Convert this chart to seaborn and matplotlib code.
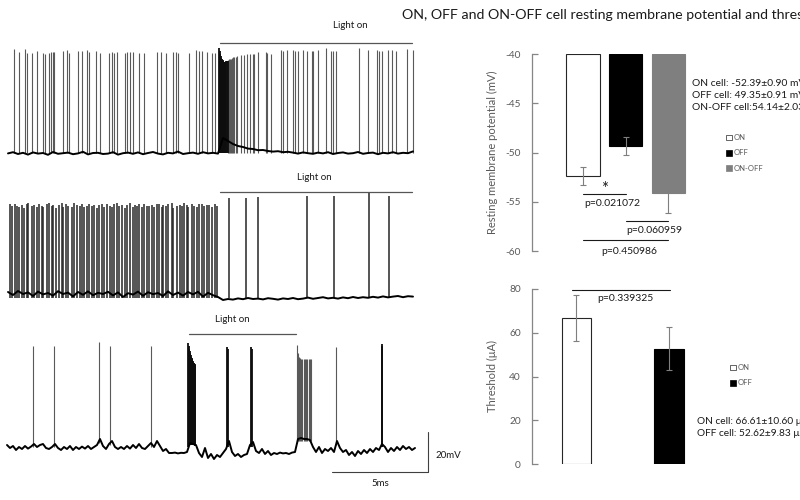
import numpy as np
import pandas as pd
import matplotlib
matplotlib.use("Agg")
import matplotlib.pyplot as plt
import seaborn as sns
from matplotlib.patches import Patch

# ---------------------------------------------------------------- data
TITLE = "ON, OFF and ON-OFF cell resting membrane potential and threshold"

# resting membrane potential (mV)
rmp_cells = ["ON", "OFF", "ON-OFF"]
rmp_mean = [-52.39, -49.35, -54.14]
rmp_sem = [0.90, 0.91, 2.03]
rmp_ticks = [-60, -55, -50, -45, -40]
rmp_notes = ["ON cell: -52.39\u00b10.90 mV", "OFF cell: 49.35\u00b10.91 mV", "ON-OFF cell:54.14\u00b12.03 mV"]
rmp_pvals = ["p=0.021072", "p=0.060959", "p=0.450986"]
rmp_pairs = [(0, 1), (1, 2), (0, 2)]
rmp_pair_level = [-54.2, -57.0, -58.9]

# threshold (uA)
thr_cells = ["ON", "OFF"]
thr_mean = [66.61, 52.62]
thr_sem = [10.60, 9.83]
thr_ticks = [0, 20, 40, 60, 80]
thr_notes = ["ON cell: 66.61\u00b110.60 \u03bcA", "OFF cell: 52.62\u00b19.83 \u03bcA"]
thr_pval = "p=0.339325"
thr_pair_level = 79.5

# ---- traces (time in samples, voltage in mV)
# trace 1 : ON cell
tr1_light = [220, 412]
tr1_base_start, tr1_base_step = 8, 5
tr1_base = [-60.2, -59.6, -60.5, -59.9, -60.8, -59.7, -60.3, -60.0, -60.9, -59.5,
            -60.4, -60.1, -59.8, -60.6, -60.2, -59.4, -60.7, -60.0, -59.9, -60.5,
            -60.3, -59.6, -60.8, -60.1, -59.8, -60.4, -59.7, -60.6, -60.0, -59.5,
            -60.3, -60.7, -59.9, -60.2, -59.3, -60.5, -60.1, -59.8, -60.4, -59.6,
            -60.2, -59.9, -60.3,
            -52.5, -54.0, -55.5, -56.5, -57.0, -57.8, -58.0, -58.6, -58.5, -59.0,
            -59.3, -59.1, -59.6, -59.4, -59.8, -60.3, -59.7, -60.1, -60.4, -59.8,
            -60.2, -59.6, -60.5, -60.0, -59.7, -60.3, -60.1, -59.5, -60.4, -60.0,
            -59.8, -60.6, -59.9, -60.2, -59.6, -60.3, -59.9, -60.1, -59.2]
tr1_spike_t = [14, 19.3, 25, 26.7, 32.3, 36.7, 42.7, 45, 49, 51,
               52.7, 54.3, 62.7, 66.7, 69, 77.7, 81.7, 87.3, 89.3, 95.7,
               100, 109, 111.7, 114.3, 117.3, 125, 127.3, 130, 132.7, 139.3,
               144, 156.7, 160.7, 166, 172.7, 176, 177.7, 189.3, 196, 199,
               201.7, 206.7, 212.3, 215,
               219.0, 219.6, 220.2, 220.8, 221.4, 222.0, 222.6, 223.2, 223.9, 224.6,
               225.3, 226.0, 226.8, 227.6, 228.4, 229.3, 230.2, 231.2, 232.2, 233.3,
               234.4, 235.6,
               236.7, 240.7, 244.3, 246.7, 250, 252.7, 254.3, 258.3, 265.7, 267.3,
               271, 280.7, 282.7, 287.3, 292.7, 295, 298.3, 302.7, 307.3, 311.7,
               313.3, 318.3, 326, 330.7, 332.7, 336, 359.3, 368.3, 376.7, 379.3,
               381.7, 388.3, 391.7, 396, 407.3, 412.7]
tr1_spike_top = [-7.8, -9.5, -8.2, -9.8, -10.2, -9.0, -10.0, -10.3, -9.8, -9.6,
                 -9.4, -9.7, -9.2, -8.6, -9.9, -9.0, -8.8, -8.5, -9.3, -9.0,
                 -9.9, -10.0, -9.6, -9.8, -9.5, -10.0, -9.7, -9.4, -9.6, -9.8,
                 -9.9, -9.3, -9.5, -9.8, -9.7, -9.6, -9.8, -9.9, -8.4, -9.1,
                 -9.2, -9.6, -9.8, -9.9,
                 -7.5, -9.0, -10.5, -11.5, -12.5, -13.0, -13.5, -14.0, -14.5, -14.5,
                 -14.5, -14.2, -14.0, -13.8, -13.5, -13.2, -13.0, -12.8, -12.5, -12.2,
                 -12.0, -11.8,
                 -11.5, -11.0, -10.8, -10.5, -10.5, -10.3, -10.3, -9.5, -9.5, -10.0,
                 -10.5, -8.5, -9.0, -8.5, -8.5, -9.0, -9.0, -8.5, -9.0, -9.0,
                 -9.0, -8.5, -7.5, -9.0, -9.0, -9.0, -7.5, -8.5, -8.5, -9.0,
                 -9.0, -8.5, -8.5, -9.0, -8.0, -8.5]
tr1_spike_base = -60.0

# trace 2 : OFF cell
tr2_light = [220, 412]
tr2_base_start, tr2_base_step = 8, 5
tr2_base = [-60.0, -61.5, -59.5, -61.0, -60.2, -62.0, -59.8, -61.2, -60.5, -61.8,
            -59.6, -61.0, -60.3, -62.2, -60.0, -61.4, -59.7, -61.6, -60.4, -61.0,
            -59.9, -61.7, -60.2, -62.5, -60.6, -61.3, -59.8, -61.9, -60.1, -61.1,
            -60.5, -62.0, -59.7, -61.5, -60.3, -61.8, -60.0, -61.2, -59.9, -62.3,
            -60.4, -61.6, -62.5,
            -64.0, -63.5, -63.8, -63.2, -63.6, -63.0, -63.5, -63.3, -63.7, -63.1,
            -63.4, -63.8, -63.2, -63.5, -63.0, -63.6, -63.3, -62.8, -63.4, -63.0,
            -62.6, -63.2, -62.9, -63.3, -62.7, -63.1, -62.5, -63.0, -62.6, -62.9,
            -62.4, -62.8, -62.2, -62.7, -62.3, -62.0, -62.6, -62.1, -62.3]
tr2_spike_t = [10, 12.3, 15, 17.3, 19, 21.7, 24, 26.7, 28.3, 31.7,
               34, 36.7, 39.3, 41.7, 43.3, 46.7, 49.3, 51.7, 53.3, 56,
               59.3, 61.7, 63.3, 66, 68.3, 71.7, 74, 76.7, 80, 82.3,
               84.3, 86.7, 89.3, 91.7, 94.3, 96.7, 99.3, 101.7, 104, 106.7,
               110, 112, 114.3, 116.7, 119.3, 121.7, 125, 127.3, 130, 132.7,
               135, 136.7, 139.3, 141.7, 144, 146.7, 149.3, 151.7, 154, 156.7,
               159.3, 161.7, 163.3, 166, 168.3, 171.7, 173.3, 176.7, 180, 181.7,
               184, 186.7, 188.3, 191.7, 194.3, 196.7, 199.3, 201.7, 204, 206.7,
               209.3, 211.7, 215, 216.7,
               229.3, 245.7, 258.3, 307.3, 334.3, 369.3, 389]
tr2_spike_top = [-16.0, -17.2, -15.8, -16.9, -17.5, -16.3, -17.8, -16.1, -15.6, -17.0,
                 -16.6, -17.4, -15.9, -16.8, -17.6, -16.2, -15.5, -17.1, -16.7, -17.9,
                 -16.4, -15.7, -17.3, -16.0, -16.9, -17.7, -15.4, -16.5, -17.2, -16.1,
                 -17.5, -16.8, -15.9, -17.0, -16.3, -17.8, -16.6, -15.8, -17.4, -16.2,
                 -16.9, -17.6, -16.0, -15.7, -17.1, -16.5, -17.9, -16.3, -15.6, -17.3,
                 -16.7, -17.0, -16.1, -17.5, -15.9, -16.8, -17.2, -16.4, -17.7, -16.0,
                 -15.8, -17.4, -16.6, -17.1, -16.2, -15.5, -17.8, -16.9, -16.3, -17.0,
                 -15.7, -16.5, -17.6, -16.1, -16.8, -17.3, -16.0, -15.9, -17.2, -16.4,
                 -16.7, -17.5, -16.2, -16.9,
                 -13.0, -13.0, -12.5, -12.0, -12.0, -10.5, -12.0]
tr2_spike_base = -62.8

# trace 3 : ON-OFF cell
tr3_light = [189, 296]
tr3_base_start, tr3_base_step = 7, 3
tr3_base = [-59.0, -60.5, -59.5, -61.5, -60.0, -61.0, -59.5, -60.8, -59.8, -58.5,
            -60.0, -59.0, -58.5, -60.5, -61.0, -60.0, -58.5, -60.5, -61.5, -60.0,
            -61.0, -59.5, -61.5, -60.0, -61.0, -59.8, -60.8, -59.5, -61.0, -60.0,
            -59.0, -56.0, -59.5, -61.0, -58.5, -57.0, -60.0, -61.0, -60.0, -61.0,
            -59.5, -60.8, -59.0, -60.5, -58.5, -60.5, -61.0, -59.5, -58.0, -60.0,
            -57.0, -59.5, -62.0, -61.0, -63.0, -63.0, -62.8, -63.2, -62.9, -63.0,
            -62.5, -58.0, -58.5, -59.0, -63.0, -65.0, -60.5, -65.5, -63.5, -66.0,
            -64.0, -65.0, -63.0, -61.0, -57.0, -62.5, -64.5, -63.5, -65.0, -64.0,
            -63.5, -59.0, -57.5, -62.0, -63.0, -61.0, -63.5, -62.0, -64.0, -63.0,
            -63.5, -62.8, -63.2, -63.0, -63.5, -62.8, -62.5, -56.0, -55.5, -56.0,
            -56.0, -56.5, -60.0, -62.5, -60.0, -63.0, -61.0, -62.0, -60.5, -62.5,
            -57.0, -60.5, -62.5, -61.5, -64.0, -62.5, -64.5, -62.0, -63.5, -61.5,
            -63.0, -61.0, -62.5, -60.5, -61.5, -58.5, -60.0, -62.5, -60.5, -62.0,
            -60.0, -61.5, -59.5, -61.0, -60.0, -61.5, -60.5]
tr3_spike_t = [33.3, 54.3, 99, 110.3, 151,
               188.0, 188.5, 189.0, 189.5, 190.0, 190.5, 191.0, 191.5, 192.0, 192.5,
               193.0, 193.5, 194.0, 194.5, 195.0,
               227.3, 227.9, 251.0, 251.6,
               296.7, 297.7, 298.7, 300.0, 301.0, 302.3, 303.7, 304.7, 306.0, 307.3,
               308.7, 310.0, 311.3,
               336.0, 381.7, 382.3]
tr3_spike_top = [-9.5, -9.5, -7.5, -9.5, -9.5,
                 -8.0, -9.5, -11.0, -12.0, -13.0, -14.0, -14.8, -15.5, -16.2, -16.8,
                 -17.3, -17.8, -18.2, -18.6, -19.0,
                 -10.0, -11.0, -10.0, -11.0,
                 -9.0, -13.0, -15.0, -15.5, -16.0, -16.0, -16.0, -16.0, -16.0, -16.0,
                 -16.0, -16.0, -16.0,
                 -10.0, -8.5, -9.5]
tr3_spike_base = [-60.0, -60.0, -58.0, -59.0, -60.0,
                  -60.0, -59.5, -59.0, -59.0, -59.0, -59.0, -59.0, -59.0, -59.0, -59.0,
                  -59.0, -59.0, -59.0, -59.0, -59.5,
                  -60.0, -60.0, -60.0, -60.0,
                  -58.0, -57.0, -57.0, -57.0, -57.0, -57.0, -57.0, -57.0, -57.0, -57.0,
                  -57.0, -57.0, -57.0,
                  -59.0, -60.0, -60.0]
scalebar_samples = 96      # 5 ms
scalebar_mv = 20
scalebar_labels = ["5ms", "20mV"]

# ---------------------------------------------------------------- style
sns.set_theme(style="white")
plt.rcParams["font.family"] = ["Lato", "DejaVu Sans"]
AX_GRAY = "#868686"
TXT_GRAY = "#595959"

fig = plt.figure(figsize=(8, 5), dpi=100)
W, H = 800, 500


def px_axes(left, top, width, height):
    return fig.add_axes([left / W, 1 - (top + height) / H, width / W, height / H])


fig.text(402 / W, 1 - 15 / H, TITLE, fontsize=10.15, color="#1a1a1a",
         ha="left", va="center")


# ---------------------------------------------------------------- traces
def draw_trace(ax, base_start, base_step, base, sp_t, sp_top, sp_base, light,
               light_v, text_x, text_v, spike_color="0.35", spike_lw=0.8):
    t = base_start + base_step * np.arange(len(base))
    sp_t = np.asarray(sp_t, dtype=float)
    gaps = np.diff(sp_t)
    dense = np.zeros(len(sp_t), dtype=bool)
    dense[1:] |= gaps < 0.8
    dense[:-1] |= gaps < 0.8
    sp_top = np.asarray(sp_top, dtype=float)
    sp_base = np.broadcast_to(np.asarray(sp_base, dtype=float), sp_t.shape)
    ax.vlines(sp_t[~dense], sp_base[~dense], sp_top[~dense], color=spike_color,
              lw=spike_lw)
    ax.vlines(sp_t[dense], sp_base[dense], sp_top[dense], color="0.05",
              lw=1.3)
    sns.lineplot(x=t, y=base, ax=ax, color="black", lw=1.4, estimator=None)
    ax.plot(light, [light_v, light_v], color="#555555", lw=0.9, clip_on=False)
    ax.text(text_x, text_v, "Light on", fontsize=7, ha="center", va="center",
            color="#1a1a1a", clip_on=False)
    ax.set_xlim(0, 440)
    ax.set_axis_off()


ax_t1 = px_axes(0, 20, 440, 140)
ax_t1.set_ylim(-63.5, 6.5)
draw_trace(ax_t1, tr1_base_start, tr1_base_step, tr1_base, tr1_spike_t,
           tr1_spike_top, tr1_spike_base, tr1_light, -5.0, 350, 4.0)

ax_t2 = px_axes(0, 165, 440, 140)
ax_t2.set_ylim(-66.5, 3.5)
draw_trace(ax_t2, tr2_base_start, tr2_base_step, tr2_base, tr2_spike_t,
           tr2_spike_top, tr2_spike_base, tr2_light, -10.0, 314, -2.5,
           spike_color="0.15", spike_lw=1.1)

ax_t3 = px_axes(0, 320, 440, 150)
ax_t3.set_ylim(-71.5, 3.5)
draw_trace(ax_t3, tr3_base_start, tr3_base_step, tr3_base, tr3_spike_t,
           tr3_spike_top, tr3_spike_base, tr3_light, -3.5, 232, 4.0)
# scale bar
sb_x1 = 428
sb_y0 = -72.5
ax_t3.plot([sb_x1 - scalebar_samples, sb_x1, sb_x1],
           [sb_y0, sb_y0, sb_y0 + scalebar_mv], color="#404040", lw=0.8,
           clip_on=False)
ax_t3.text(sb_x1 - scalebar_samples / 2, sb_y0 - 5.5, scalebar_labels[0],
           fontsize=7, ha="center", va="center", color="#1a1a1a", clip_on=False)
ax_t3.text(sb_x1 + 7, sb_y0 + 8, scalebar_labels[1], fontsize=7, ha="left",
           va="center", color="#1a1a1a", clip_on=False)


# ---------------------------------------------------------------- bar charts
def style_bar_axes(ax, ticks):
    for s in ["top", "right", "bottom"]:
        ax.spines[s].set_visible(False)
    ax.spines["left"].set_color(AX_GRAY)
    ax.spines["left"].set_linewidth(0.9)
    ax.set_yticks(ticks)
    ax.set_yticklabels([str(v) for v in ticks])
    ax.tick_params(axis="y", direction="in", length=4, width=0.9, color=AX_GRAY,
                   labelcolor=TXT_GRAY, labelsize=7.3, pad=8, left=True)
    ax.set_xticks([])
    ax.set_xlabel("")
    ax.set_facecolor("none")


face = {"ON": "white", "OFF": "black", "ON-OFF": "#7f7f7f"}
edge = {"ON": "#262626", "OFF": "black", "ON-OFF": "#7f7f7f"}

# --- resting membrane potential
ax1 = px_axes(532, 54, 168, 197)
df_rmp = pd.DataFrame({"cell": rmp_cells, "rmp": rmp_mean})
sns.barplot(data=df_rmp, x="cell", y="rmp", hue="cell", order=rmp_cells,
            hue_order=rmp_cells, palette=face, width=0.78, legend=False,
            errorbar=None, ax=ax1, linewidth=0.8)
for p in ax1.patches:
    idx = int(round(p.get_x() + p.get_width() / 2))
    cell = rmp_cells[idx]
    p.set_edgecolor(edge[cell])
    p.set_y(-40)
    p.set_height(rmp_mean[idx] + 40)
ax1.errorbar(range(len(rmp_cells)), rmp_mean, yerr=rmp_sem, fmt="none",
             ecolor="#7f7f7f", elinewidth=0.8, capsize=2, capthick=0.8, zorder=5)
ax1.set_xlim(-1.2, 2.75)
ax1.set_ylim(-60, -40)
style_bar_axes(ax1, rmp_ticks)
ax1.set_ylabel("Resting membrane potential (mV)", fontsize=8, color=TXT_GRAY)
ax1.yaxis.set_label_coords(-0.2, 0.5)

text_offsets = [(0.02, -55.13), (1.01, -57.94), (0.42, -60.1)]
for (a, b), lvl, ptxt, (tx, ty) in zip(rmp_pairs, rmp_pair_level, rmp_pvals, text_offsets):
    ax1.plot([a, b], [lvl, lvl], color="#1a1a1a", lw=0.8, clip_on=False)
    ax1.text(tx, ty, ptxt, fontsize=7.5, ha="left", va="center", color="#1a1a1a",
             clip_on=False)
ax1.text(0.5, -53.75, "*", fontsize=12, ha="center", va="center", color="#1a1a1a")

for i, note in enumerate(rmp_notes):
    fig.text(692 / W, 1 - (84 + 12 * i) / H, note, fontsize=7.4, ha="left",
             va="center", color="#1a1a1a")

h1 = [Patch(facecolor=face[c], edgecolor=edge[c], lw=0.5) for c in rmp_cells]
leg1 = ax1.legend(h1, rmp_cells, loc="upper left",
                  bbox_to_anchor=(726 / W, 1 - 134 / H),
                  bbox_transform=fig.transFigure, frameon=False, fontsize=5.5,
                  handlelength=0.75, handleheight=0.75, handletextpad=0.3,
                  labelspacing=1.1, borderpad=0, borderaxespad=0)
for t in leg1.get_texts():
    t.set_color(TXT_GRAY)

# --- threshold
ax2 = px_axes(532, 289, 168, 175)
df_thr = pd.DataFrame({"cell": thr_cells, "thr": thr_mean})
sns.barplot(data=df_thr, x="cell", y="thr", hue="cell", order=thr_cells,
            hue_order=thr_cells, palette=face, width=0.32, legend=False,
            errorbar=None, ax=ax2, linewidth=0.8)
for p in ax2.patches:
    idx = int(round(p.get_x() + p.get_width() / 2))
    p.set_edgecolor(edge[thr_cells[idx]])
ax2.errorbar(range(len(thr_cells)), thr_mean, yerr=thr_sem, fmt="none",
             ecolor="#7f7f7f", elinewidth=0.8, capsize=2, capthick=0.8, zorder=5)
ax2.set_xlim(-0.48, 1.335)
ax2.set_ylim(0, 80)
style_bar_axes(ax2, thr_ticks)
ax2.set_ylabel("Threshold (\u03bcA)", fontsize=8, color=TXT_GRAY)
ax2.yaxis.set_label_coords(-0.2, 0.5)
ax2.plot([-0.05, 1.01], [thr_pair_level, thr_pair_level], color="#1a1a1a",
         lw=0.8, clip_on=False)
ax2.text(0.22, 75.7, thr_pval, fontsize=7.5, ha="left", va="center",
         color="#1a1a1a")

for i, note in enumerate(thr_notes):
    fig.text(697 / W, 1 - (421 + 13 * i) / H, note, fontsize=7.3, ha="left",
             va="center", color="#1a1a1a")

h2 = [Patch(facecolor=face[c], edgecolor=edge[c], lw=0.5) for c in thr_cells]
leg2 = ax2.legend(h2, thr_cells, loc="upper left",
                  bbox_to_anchor=(730 / W, 1 - 364 / H),
                  bbox_transform=fig.transFigure, frameon=False, fontsize=5.5,
                  handlelength=0.75, handleheight=0.75, handletextpad=0.3,
                  labelspacing=1.1, borderpad=0, borderaxespad=0)
for t in leg2.get_texts():
    t.set_color(TXT_GRAY)

fig.savefig("out.png", dpi=100)
